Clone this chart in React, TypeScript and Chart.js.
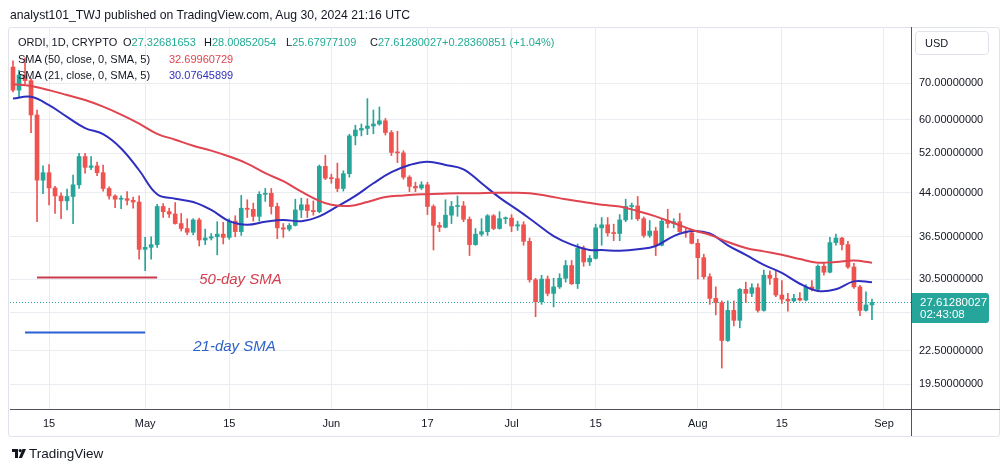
import React, { useEffect, useRef } from 'react';
import { Chart, registerables } from 'chart.js';

Chart.register(...registerables);

// ---------- data ----------
const startDate = '2024-04-09';
const dayCount = 150; // Apr 9 .. Sep 5 (axis extends past last candle)

const tickLabels: [string, string][] = [
  ['2024-04-15', '15'], ['2024-05-01', 'May'], ['2024-05-15', '15'], ['2024-06-01', 'Jun'],
  ['2024-06-17', '17'], ['2024-07-01', 'Jul'], ['2024-07-15', '15'], ['2024-08-01', 'Aug'],
  ['2024-08-15', '15'], ['2024-09-01', 'Sep'],
];
const priceTicks = [19.5, 22.5, 26.5, 30.5, 36.5, 44, 52, 60, 70];

const opens = [
  75.0, 68.0, 72.5, 70.8, 61.2, 46.4, 47.9, 44.9, 43.4, 42.5,
  43.3, 45.5, 51.3, 49.0, 49.3, 47.9, 44.8, 43.4, 42.8, 42.9,
  42.6, 42.3, 34.6, 34.9, 35.3, 41.5, 40.6, 40.2, 38.6, 37.8,
  37.2, 39.2, 36.0, 36.3, 36.5, 36.9, 36.4, 39.0, 37.3, 41.2,
  41.0, 39.8, 43.7, 43.9, 41.5, 37.9, 37.7, 38.3, 40.9, 41.8,
  40.8, 40.6, 49.2, 46.8, 46.7, 44.8, 47.7, 56.0, 57.4, 57.8,
  58.4, 58.9, 59.7, 56.8, 52.2, 52.1, 47.0, 45.2, 44.9, 45.5,
  41.5, 38.3, 38.0, 40.0, 41.5, 41.6, 39.3, 35.3, 36.9, 37.3,
  39.9, 37.8, 39.4, 39.5, 38.2, 38.4, 35.8, 30.4, 27.7, 30.5,
  28.7, 29.5, 30.6, 32.3, 29.9, 34.8, 32.8, 33.3, 37.9, 38.4,
  37.1, 37.0, 39.2, 41.5, 41.6, 39.4, 36.7, 37.4, 35.2, 39.0,
  38.6, 38.9, 37.3, 37.1, 35.5, 33.4, 30.8, 28.1, 27.6, 23.5,
  26.7, 25.6, 29.2, 28.7, 29.4, 26.7, 31.0, 30.6, 28.5, 28.0,
  27.8, 28.1, 27.9, 29.5, 29.2, 32.2, 31.4, 35.6, 36.3, 35.3,
  32.1, 29.5, 26.7, 27.32681653,
];
const highs = [
  77.0, 74.0, 78.0, 71.5, 62.5, 49.3, 49.6, 45.2, 44.0, 44.7,
  47.4, 52.0, 52.0, 51.3, 50.1, 49.5, 45.1, 43.6, 43.4, 44.2,
  43.2, 43.4, 36.4, 36.5, 41.9, 42.0, 41.2, 42.2, 40.3, 39.4,
  39.4, 39.5, 37.7, 37.0, 38.9, 38.8, 39.4, 39.9, 43.5, 42.7,
  42.1, 44.2, 44.8, 44.8, 42.1, 38.6, 38.6, 42.8, 43.0, 42.9,
  42.5, 49.5, 51.6, 47.6, 49.9, 48.3, 56.4, 58.6, 58.9, 65.6,
  62.5, 63.3, 60.3, 57.3, 57.1, 52.6, 47.3, 46.0, 46.1, 46.0,
  41.8, 38.8, 42.7, 42.4, 43.4, 42.4, 39.7, 37.8, 39.4, 40.1,
  40.1, 40.6, 39.7, 40.1, 39.0, 38.9, 36.3, 30.6, 31.0, 30.9,
  30.6, 31.2, 33.0, 33.0, 35.4, 35.1, 33.7, 38.5, 39.6, 39.6,
  38.5, 40.1, 42.8, 42.1, 43.3, 39.7, 39.1, 38.0, 39.3, 41.0,
  39.4, 40.3, 37.8, 37.3, 36.1, 33.9, 31.2, 29.5, 27.8, 27.8,
  27.8, 29.3, 30.1, 29.9, 29.9, 31.7, 31.6, 31.5, 30.3, 28.7,
  28.6, 28.8, 29.8, 30.3, 32.4, 32.6, 36.4, 36.9, 36.4, 35.8,
  32.6, 29.7, 28.9, 28.00852054,
];
const lows = [
  67.5, 66.1, 69.8, 56.8, 38.9, 43.8, 41.8, 40.3, 39.4, 40.9,
  38.6, 44.8, 47.8, 48.5, 47.3, 44.3, 42.8, 41.3, 41.1, 41.8,
  41.2, 33.2, 31.6, 33.2, 34.9, 39.6, 39.6, 38.5, 37.4, 36.8,
  36.8, 35.1, 35.3, 36.0, 33.8, 35.4, 36.1, 36.5, 36.7, 39.6,
  39.0, 39.0, 42.4, 40.2, 36.2, 36.4, 37.4, 38.2, 39.6, 39.6,
  40.0, 40.4, 46.5, 45.8, 44.2, 44.3, 47.0, 53.9, 56.0, 56.3,
  56.5, 58.6, 56.2, 51.5, 50.0, 46.6, 44.2, 44.2, 44.6, 40.1,
  34.5, 37.3, 37.9, 38.6, 39.8, 38.9, 33.7, 35.2, 36.6, 36.7,
  37.6, 37.7, 38.6, 37.3, 37.5, 35.2, 30.1, 26.0, 27.4, 28.4,
  27.1, 29.3, 30.1, 29.8, 29.3, 32.2, 32.3, 33.2, 35.2, 36.6,
  35.9, 35.9, 38.9, 39.3, 39.1, 36.4, 36.4, 33.7, 35.1, 37.9,
  37.9, 37.2, 36.4, 35.4, 30.5, 30.5, 27.4, 26.2, 20.9, 23.4,
  25.0, 24.8, 27.6, 28.3, 26.5, 26.6, 29.8, 28.3, 27.5, 26.6,
  27.7, 27.8, 27.8, 29.0, 28.9, 31.0, 31.3, 35.2, 34.5, 31.9,
  29.3, 26.1, 26.6, 25.67977109,
];
const closes = [
  68.0, 72.5, 70.8, 61.2, 46.4, 47.9, 44.9, 43.4, 42.5, 43.3,
  45.5, 51.3, 49.0, 49.3, 47.9, 44.8, 43.4, 42.8, 42.9, 42.6,
  42.3, 34.6, 34.9, 35.3, 41.5, 40.6, 40.2, 38.6, 37.8, 37.2,
  39.2, 36.0, 36.3, 36.5, 36.9, 36.4, 39.0, 37.3, 41.2, 41.0,
  39.8, 43.7, 43.9, 41.5, 37.9, 37.7, 38.3, 40.9, 41.8, 40.8,
  40.6, 49.2, 46.8, 46.7, 44.8, 47.7, 56.0, 57.4, 57.8, 58.4,
  58.9, 59.7, 56.8, 52.2, 52.1, 47.0, 45.2, 44.9, 45.5, 41.5,
  38.3, 38.0, 40.0, 41.5, 41.6, 39.3, 35.3, 36.9, 37.3, 39.9,
  37.8, 39.4, 39.5, 38.2, 38.4, 35.8, 30.4, 27.7, 30.5, 28.7,
  29.5, 30.6, 32.3, 29.9, 34.8, 32.8, 33.3, 37.9, 38.4, 37.1,
  37.0, 39.2, 41.5, 41.6, 39.4, 36.7, 37.4, 35.2, 39.0, 38.6,
  38.9, 37.3, 37.1, 35.5, 33.4, 30.8, 28.1, 27.6, 23.5, 26.7,
  25.6, 29.2, 28.7, 29.4, 26.7, 31.0, 30.6, 28.5, 28.0, 27.8,
  28.1, 27.9, 29.5, 29.2, 32.2, 31.4, 35.6, 36.3, 35.3, 32.1,
  29.5, 26.7, 27.32681653, 27.61280027,
];

const sma50Days = [0, 3, 6, 9, 12, 15, 18, 21, 24, 27, 30, 33, 36, 39, 42, 45, 48, 51, 53, 56, 59, 62, 65, 68, 71, 74, 77, 80, 83, 86, 89, 92, 95, 98, 101, 104, 107, 110, 113, 116, 119, 122, 125, 128, 131, 134, 137, 140, 143];
const sma50Vals = [69.7, 69.2, 68.0, 66.6, 65.2, 63.4, 61.3, 59.0, 56.5, 55.1, 53.7, 52.6, 51.3, 49.8, 47.8, 46.2, 44.2, 42.5, 41.8, 41.6, 42.3, 43.2, 43.5, 43.7, 43.8, 43.9, 43.9, 44.0, 44.0, 43.9, 43.4, 42.8, 42.3, 41.8, 41.5, 40.7, 39.8, 38.7, 37.6, 36.8, 35.7, 34.8, 34.3, 33.8, 33.2, 32.7, 32.8, 33.0, 32.69960729];
const sma21Days = [0, 3, 6, 9, 12, 15, 18, 21, 24, 27, 30, 33, 36, 39, 42, 45, 48, 51, 54, 57, 60, 63, 66, 69, 72, 75, 78, 81, 84, 87, 90, 93, 96, 98, 101, 104, 107, 110, 113, 116, 119, 122, 125, 128, 131, 134, 137, 140, 143];
const sma21Vals = [65.6, 66.1, 63.8, 60.7, 57.9, 56.4, 53.1, 48.4, 43.7, 42.9, 42.3, 40.9, 39.0, 38.4, 38.9, 39.2, 39.0, 39.8, 41.5, 43.4, 45.8, 48.0, 49.5, 50.2, 49.5, 48.6, 45.8, 43.1, 40.9, 38.7, 36.6, 35.3, 34.5, 34.5, 34.4, 34.6, 35.1, 36.6, 37.4, 37.0, 35.2, 33.8, 32.4, 31.3, 29.9, 29.0, 29.2, 30.2, 30.07645899];

// annotation guides drawn on the chart
const note50 = { text: '50-day SMA', from: 4, to: 24, level: 30.7, textDay: 31, textLevel: 30.4 };
const note21 = { text: '21-day SMA', from: 2, to: 22, level: 24.3, textDay: 30, textLevel: 22.9 };

// ---------- styling ----------
const UP = '#26a69a';
const DOWN = '#ef5350';
const SMA50_COLOR = '#e0444e';
const SMA21_COLOR = '#2f2fbf';
const GRID = '#e9ecf1';
const TEXT = '#131722';
const VALUE_GREEN = '#22ab94';
const UI_FONT = '"Liberation Sans", Arial, sans-serif';
const AXIS_FONT = '"Liberation Sans", Arial, sans-serif';

function buildLabels(): string[] {
  const out: string[] = [];
  const d0 = new Date(startDate + 'T00:00:00Z');
  for (let i = 0; i < dayCount; i++) {
    const d = new Date(d0.getTime() + i * 86400000);
    out.push(d.toISOString().slice(0, 10));
  }
  return out;
}

export default function App() {
  const canvasRef = useRef<HTMLCanvasElement | null>(null);

  useEffect(() => {
    const canvas = canvasRef.current;
    if (!canvas) return;
    const labels = buildLabels();
    const tickMap: Record<string, string> = {};
    tickLabels.forEach(([d, t]) => { tickMap[d] = t; });
    const colors = closes.map((c, i) => (c >= opens[i] ? UP : DOWN));
    const lastClose = closes[closes.length - 1];

    const extras = {
      id: 'tvExtras',
      afterDatasetsDraw(chart: any) {
        const { ctx, chartArea, scales } = chart;
        const xs = scales.x;
        const ys = scales.y;
        ctx.save();
        ctx.font = 'italic 15px ' + UI_FONT;
        ctx.textBaseline = 'middle';
        ctx.textAlign = 'left';
        ctx.fillStyle = '#d4404f';
        ctx.fillText(note50.text, xs.getPixelForValue(note50.textDay), ys.getPixelForValue(note50.textLevel));
        ctx.fillStyle = '#2e62c8';
        ctx.fillText(note21.text, xs.getPixelForValue(note21.textDay), ys.getPixelForValue(note21.textLevel));
        const py = Math.round(ys.getPixelForValue(lastClose)) + 0.5;
        ctx.strokeStyle = UP;
        ctx.lineWidth = 1;
        ctx.setLineDash([1, 2]);
        ctx.beginPath();
        ctx.moveTo(chartArea.left, py);
        ctx.lineTo(chartArea.right, py);
        ctx.stroke();
        ctx.setLineDash([]);
        ctx.restore();
      },
      afterDraw(chart: any) {
        const { ctx, chartArea, scales } = chart;
        const ys = scales.y;
        ctx.save();
        ctx.strokeStyle = '#50535e';
        ctx.lineWidth = 1;
        ctx.beginPath();
        ctx.moveTo(chartArea.right + 0.5, chartArea.top);
        ctx.lineTo(chartArea.right + 0.5, chartArea.bottom + 27);
        ctx.moveTo(chartArea.left, chartArea.bottom + 0.5);
        ctx.lineTo(chart.width - 3, chartArea.bottom + 0.5);
        ctx.stroke();
        const py = Math.round(ys.getPixelForValue(lastClose));
        ctx.fillStyle = UP;
        ctx.beginPath();
        const bx = chartArea.right + 1, bw = 77, by = py - 9, bh = 30;
        (ctx as any).roundRect(bx, by, bw, bh, [0, 3, 3, 0]);
        ctx.fill();
        ctx.fillStyle = '#ffffff';
        ctx.font = '11.5px ' + AXIS_FONT;
        ctx.textBaseline = 'middle';
        ctx.textAlign = 'left';
        ctx.fillText(lastClose.toFixed(8), chartArea.right + 9, py + 1);
        ctx.fillText('02:43:08', chartArea.right + 9, py + 13);
        ctx.restore();
      },
    };

    const chart = new Chart(canvas, {
      type: 'bar',
      data: {
        labels,
        datasets: [
          {
            type: 'line',
            data: [{ x: labels[note50.from], y: note50.level }, { x: labels[note50.to], y: note50.level }] as any,
            borderColor: '#c93a4c', borderWidth: 2, pointRadius: 0, order: 0,
          },
          {
            type: 'line',
            data: [{ x: labels[note21.from], y: note21.level }, { x: labels[note21.to], y: note21.level }] as any,
            borderColor: '#2d5fd0', borderWidth: 2, pointRadius: 0, order: 0,
          },
          {
            type: 'line',
            data: sma50Days.map((d, k) => ({ x: labels[d], y: sma50Vals[k] })) as any,
            borderColor: SMA50_COLOR, borderWidth: 2, pointRadius: 0, tension: 0.4, spanGaps: true, order: 0,
          },
          {
            type: 'line',
            data: sma21Days.map((d, k) => ({ x: labels[d], y: sma21Vals[k] })) as any,
            borderColor: SMA21_COLOR, borderWidth: 2, pointRadius: 0, tension: 0.4, spanGaps: true, order: 0,
          },
          {
            type: 'bar',
            data: opens.map((o, i) => [o, closes[i]]) as any,
            backgroundColor: colors, borderWidth: 0, barThickness: 4, grouped: false, minBarLength: 1, order: 1,
          },
          {
            type: 'bar',
            data: lows.map((l, i) => [l, highs[i]]) as any,
            backgroundColor: colors, borderWidth: 0, barThickness: 1, grouped: false, order: 2,
          },
        ],
      },
      options: {
        responsive: false,
        animation: false,
        events: [],
        layout: { padding: { left: 10, top: 27, right: 0, bottom: 37 } },
        plugins: { legend: { display: false }, tooltip: { enabled: false } },
        scales: {
          x: {
            type: 'category',
            offset: true,
            afterFit: (s: any) => { s.height = 26; },
            ticks: {
              autoSkip: false, maxRotation: 0, minRotation: 0, padding: 8,
              color: TEXT, font: { family: AXIS_FONT, size: 11 },
              callback: (_v: any, i: number) => tickMap[labels[i]] ?? '',
            },
            grid: {
              offset: false, drawTicks: false,
              color: (c: any) => (tickMap[labels[c.index]] ? GRID : 'rgba(0,0,0,0)'),
            },
            border: { display: false },
          },
          y: {
            type: 'logarithmic',
            position: 'right',
            min: 17.57,
            max: 88.9,
            afterBuildTicks: (s: any) => { s.ticks = priceTicks.map((v) => ({ value: v })); },
            afterFit: (s: any) => { s.width = 92; },
            ticks: {
              padding: 8, color: TEXT, font: { family: AXIS_FONT, size: 11 },
              callback: (v: any) => (Number(v) === 26.5 ? '' : Number(v).toFixed(8)),
            },
            grid: { color: GRID, drawTicks: false },
            border: { display: false },
          },
        },
      },
      plugins: [extras],
    } as any);
    return () => chart.destroy();
  }, []);

  const legendLine = (top: number): React.CSSProperties => ({ position: 'absolute', top, fontSize: 11, lineHeight: '16px', whiteSpace: 'nowrap' });

  return (
    <div style={{ position: 'absolute', left: 0, top: 0, width: 1003, height: 472, background: '#fff', fontFamily: UI_FONT, color: TEXT, overflow: 'hidden' }}>
      <div style={{ position: 'absolute', left: 8, top: 27, width: 990, height: 408, border: '1px solid #e0e3eb', borderRadius: 3 }} />
      <canvas ref={canvasRef} width={1003} height={472} style={{ position: 'absolute', left: 0, top: 0, width: 1003, height: 472 }} />
      <div style={{ position: 'absolute', left: 10, top: 7, fontSize: 12.2, lineHeight: '16px', whiteSpace: 'nowrap' }}>
        analyst101_TWJ published on TradingView.com, Aug 30, 2024 21:16 UTC
      </div>
      <div style={{ ...legendLine(34), left: 18 }}>ORDI, 1D, CRYPTO</div>
      <div style={{ ...legendLine(34), left: 123 }}>O<span style={{ color: VALUE_GREEN }}>27.32681653</span></div>
      <div style={{ ...legendLine(34), left: 204 }}>H<span style={{ color: VALUE_GREEN }}>28.00852054</span></div>
      <div style={{ ...legendLine(34), left: 286 }}>L<span style={{ color: VALUE_GREEN }}>25.67977109</span></div>
      <div style={{ ...legendLine(34), left: 370 }}>C<span style={{ color: VALUE_GREEN }}>27.61280027</span></div>
      <div style={{ ...legendLine(34), left: 442, color: VALUE_GREEN }}>+0.28360851 (+1.04%)</div>
      <div style={{ ...legendLine(51), left: 18 }}>SMA (50, close, 0, SMA, 5)</div>
      <div style={{ ...legendLine(51), left: 169, color: SMA50_COLOR }}>32.69960729</div>
      <div style={{ ...legendLine(67), left: 18 }}>SMA (21, close, 0, SMA, 5)</div>
      <div style={{ ...legendLine(67), left: 169, color: SMA21_COLOR }}>30.07645899</div>
      <div style={{ position: 'absolute', left: 915, top: 31, width: 74, height: 24, border: '1px solid #e0e3eb', borderRadius: 4, fontSize: 11, lineHeight: '22px', paddingLeft: 9, boxSizing: 'border-box' }}>
        USD
      </div>
      <div style={{ position: 'absolute', left: 12, top: 446, display: 'flex', alignItems: 'center', gap: 3, fontSize: 13.5, whiteSpace: 'nowrap' }}>
        <svg width="14" height="10" viewBox="0 0 14 10">
          <path d="M0 0 H6 V9 H3 V3 H0 Z" fill={TEXT} />
          <circle cx="8.2" cy="1.6" r="1.6" fill={TEXT} />
          <path d="M10.5 0 H14 L10 9 H6.8 Z" fill={TEXT} />
        </svg>
        <span>TradingView</span>
      </div>
    </div>
  );
}
